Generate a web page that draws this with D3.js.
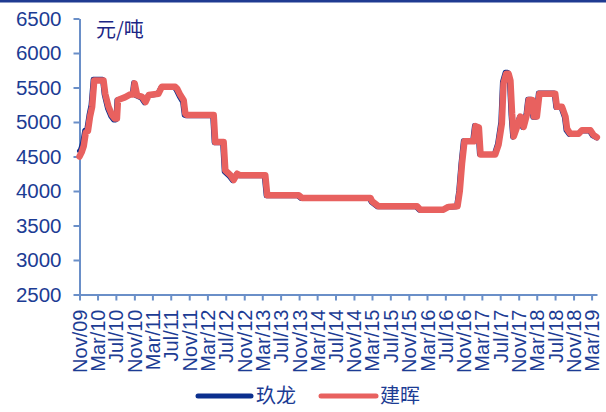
<!DOCTYPE html>
<html>
<head>
<meta charset="utf-8">
<script src="https://cdn.jsdelivr.net/npm/d3@7"></script>
<style>
  html, body { margin: 0; padding: 0; background: #fff; }
  svg { display: block; }
</style>
</head>
<body>
<svg id="chart" width="606" height="412"></svg>
<script>
// Price series, yuan per tonne
const jiulongDates = [
  "2009-11-01","2009-11-08","2009-11-22","2009-12-06","2009-12-20","2010-01-03","2010-01-17","2010-01-31",
  "2010-04-03","2010-04-14","2010-05-06","2010-05-29","2010-06-16","2010-07-01","2010-07-08","2010-08-26",
  "2010-09-28","2010-10-18","2010-10-27","2010-11-12","2010-12-15","2011-01-07","2011-01-29","2011-04-03",
  "2011-04-26","2011-07-24","2011-08-05","2011-08-27","2011-09-18","2011-09-29","2011-10-10","2012-04-05",
  "2012-04-15","2012-06-10","2012-06-21","2012-07-25","2012-08-16","2012-09-08","2012-09-24","2013-03-14",
  "2013-03-27","2013-10-23","2013-11-14","2015-02-12","2015-02-23","2015-04-05","2015-12-19","2016-01-10",
  "2016-06-11","2016-07-14","2016-09-13","2016-09-28","2016-10-13","2016-10-29","2016-12-30","2017-01-11",
  "2017-02-02","2017-02-13","2017-05-22","2017-06-13","2017-07-05","2017-07-16","2017-08-03","2017-08-19",
  "2017-08-31","2017-09-11","2017-09-22","2017-10-14","2017-11-05","2017-11-27","2017-12-20","2017-12-31",
  "2018-01-23","2018-02-03","2018-02-23","2018-03-12","2018-06-25","2018-07-06","2018-08-09","2018-09-01",
  "2018-09-12","2018-10-03","2018-11-28","2018-12-20","2019-02-14","2019-03-07","2019-04-05"
];
const jiulongValues = [
  4580,4600,4700,4880,4900,5100,5250,5620,
  5620,5400,5200,5080,5030,5030,5320,5350,
  5390,5400,5570,5380,5350,5280,5380,5400,
  5500,5500,5470,5370,5290,5100,5090,5090,
  4700,4700,4280,4210,4150,4240,4220,4220,
  3930,3930,3890,3890,3840,3770,3770,3720,
  3720,3760,3770,4000,4400,4730,4730,4950,
  4930,4530,4530,4680,5000,5580,5720,5720,
  5600,5100,4780,4920,5070,4920,5120,5330,
  5330,5070,5070,5420,5420,5210,5210,5070,
  4880,4820,4820,4870,4870,4800,4770
];

const jianhuiDates = [
  "2009-11-01","2009-11-15","2009-11-29","2009-12-13","2009-12-27","2010-01-10","2010-01-24","2010-02-07",
  "2010-04-10","2010-04-21","2010-05-13","2010-06-05","2010-06-23","2010-07-08","2010-07-15","2010-09-02",
  "2010-10-05","2010-10-25","2010-11-03","2010-11-19","2010-12-22","2011-01-14","2011-02-05","2011-04-10",
  "2011-05-03","2011-07-31","2011-08-12","2011-09-03","2011-09-25","2011-10-06","2011-10-17","2012-04-12",
  "2012-04-22","2012-06-17","2012-06-28","2012-08-01","2012-08-23","2012-09-15","2012-10-01","2013-03-21",
  "2013-04-03","2013-10-30","2013-11-21","2015-02-19","2015-03-02","2015-04-12","2015-12-26","2016-01-17",
  "2016-06-18","2016-07-21","2016-09-20","2016-10-05","2016-10-20","2016-11-05","2017-01-06","2017-01-18",
  "2017-02-09","2017-02-20","2017-05-29","2017-06-20","2017-07-12","2017-07-23","2017-08-10","2017-08-26",
  "2017-09-07","2017-09-18","2017-09-29","2017-10-21","2017-11-12","2017-12-04","2017-12-27","2018-01-07",
  "2018-01-30","2018-02-10","2018-03-02","2018-03-19","2018-07-02","2018-07-13","2018-08-16","2018-09-08",
  "2018-09-19","2018-10-10","2018-12-05","2018-12-27","2019-02-21","2019-03-14","2019-04-05"
];
const jianhuiValues = [
  4500,4560,4650,4850,4870,5080,5220,5600,
  5600,5410,5220,5100,5050,5050,5320,5360,
  5400,5400,5560,5390,5365,5290,5390,5410,
  5510,5510,5485,5390,5315,5120,5100,5100,
  4710,4710,4300,4230,4160,4250,4230,4230,
  3940,3940,3900,3900,3850,3780,3780,3730,
  3730,3770,3780,4000,4400,4720,4720,4940,
  4920,4530,4530,4670,4980,5560,5700,5700,
  5600,5120,4790,4930,5080,4930,5120,5320,
  5320,5080,5080,5410,5410,5220,5220,5080,
  4900,4830,4830,4880,4880,4810,4780
];

const seriesNames = ["玖龙", "建晖"];
const seriesColors = ["#0b2f8e", "#e8615f"];

const yTicks = [2500, 3000, 3500, 4000, 4500, 5000, 5500, 6000, 6500];
const xTickLabels = [
  "Nov/09","Mar/10","Jul/10","Nov/10","Mar/11","Jul/11","Nov/11","Mar/12","Jul/12","Nov/12",
  "Mar/13","Jul/13","Nov/13","Mar/14","Jul/14","Nov/14","Mar/15","Jul/15","Nov/15","Mar/16",
  "Jul/16","Nov/16","Mar/17","Jul/17","Nov/17","Mar/18","Jul/18","Nov/18","Mar/19"
];
const unitLabel = "元/吨";

const parseDay = d3.utcParse("%Y-%m-%d");
const parseTick = d3.utcParse("%b/%y");

const svg = d3.select("#chart");
const labelColor = "#1c3c94";
const axisColor = "#6a8fc8";
const font = "'Liberation Sans', Arial, sans-serif";

// Plot frame
const plotLeft = 79.5, plotRight = 597, plotTop = 18.5, plotBottom = 294.5;

const x = d3.scaleUtc()
  .domain([parseDay("2009-11-01"), parseDay("2019-04-06")])
  .range([plotLeft, plotRight]);
const y = d3.scaleLinear().domain([2500, 6500]).range([plotBottom, plotTop]);

// Top rule
svg.append("rect").attr("x", 0).attr("y", 0).attr("width", 606).attr("height", 2.5).attr("fill", "#1f3b91");

// Unit label
svg.append("text")
  .attr("x", 96).attr("y", 37)
  .attr("font-family", "'Noto Sans CJK SC', sans-serif")
  .attr("font-size", 20)
  .attr("fill", "#1b2585")
  .text(unitLabel);

// Y axis
const yAxis = svg.append("g")
  .attr("transform", `translate(${plotLeft},0)`)
  .call(d3.axisLeft(y).tickValues(yTicks).tickSize(6).tickSizeOuter(0).tickPadding(12).tickFormat(d3.format("d")));
yAxis.select(".domain").attr("stroke", axisColor).attr("stroke-width", 2);
yAxis.selectAll(".tick line").attr("stroke", axisColor).attr("stroke-width", 2);
yAxis.selectAll(".tick text")
  .attr("fill", labelColor).attr("font-family", font).attr("font-size", 20.5);

// X axis
const tickDates = xTickLabels.map(parseTick);
const xAxis = svg.append("g")
  .attr("transform", `translate(0,${plotBottom})`)
  .call(d3.axisBottom(x).tickValues(tickDates).tickSize(6).tickSizeOuter(0)
    .tickFormat((d, i) => xTickLabels[i]));
xAxis.select(".domain").attr("stroke", axisColor).attr("stroke-width", 2);
xAxis.selectAll(".tick line").attr("stroke", axisColor).attr("stroke-width", 2);
xAxis.selectAll(".tick text")
  .attr("fill", labelColor).attr("font-family", font).attr("font-size", 20)
  .attr("text-anchor", "end")
  .attr("transform", "rotate(-90)")
  .attr("x", -15).attr("y", 0).attr("dy", "0.35em");

// Lines
const line = d3.line().x(d => x(d[0])).y(d => y(d[1]));
const jiulong = jiulongDates.map((d, i) => [parseDay(d), jiulongValues[i]]);
const jianhui = jianhuiDates.map((d, i) => [parseDay(d), jianhuiValues[i]]);

svg.append("path").datum(jiulong)
  .attr("d", line).attr("fill", "none")
  .attr("stroke", seriesColors[0]).attr("stroke-width", 5)
  .attr("stroke-linejoin", "round").attr("stroke-linecap", "round");
svg.append("path").datum(jianhui)
  .attr("d", line).attr("fill", "none")
  .attr("stroke", seriesColors[1]).attr("stroke-width", 6.5)
  .attr("stroke-linejoin", "round").attr("stroke-linecap", "round");

// Legend
const legendItems = [
  { x1: 198, x2: 251, tx: 256 },
  { x1: 321, x2: 376, tx: 380 }
];
const legend = svg.append("g");
legendItems.forEach((it, i) => {
  legend.append("line")
    .attr("x1", it.x1).attr("x2", it.x2).attr("y1", 396).attr("y2", 396)
    .attr("stroke", seriesColors[i]).attr("stroke-width", 5).attr("stroke-linecap", "round");
  legend.append("text")
    .attr("x", it.tx).attr("y", 403)
    .attr("font-family", "'Noto Sans CJK SC', sans-serif")
    .attr("font-size", 20)
    .attr("fill", labelColor)
    .text(seriesNames[i]);
});
</script>
</body>
</html>
